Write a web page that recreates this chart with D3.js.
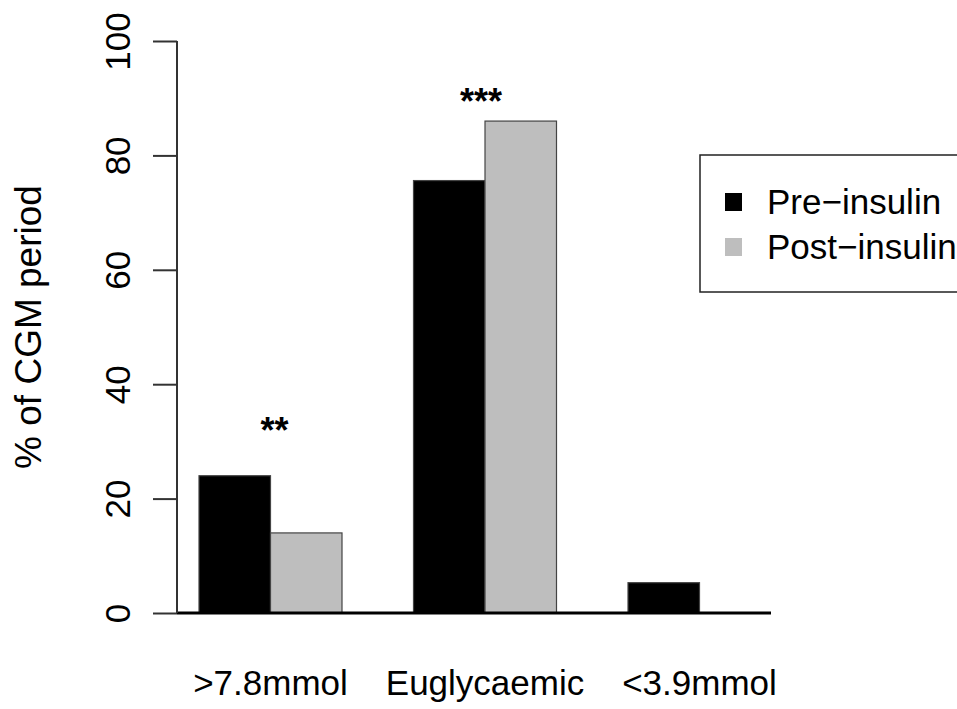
<!DOCTYPE html>
<html>
<head>
<meta charset="utf-8">
<script src="https://cdn.jsdelivr.net/npm/d3@7"></script>
<style>
  body { margin: 0; background: #fff; }
  text { font-family: "Liberation Sans", Arial, sans-serif; fill: #000; }
</style>
</head>
<body>
<div id="chart-area"></div>
<script>
// data
var categories = [">7.8mmol", "Euglycaemic", "<3.9mmol"];
var series = ["Pre-insulin", "Post-insulin"];
var seriesLabels = ["Pre\u2212insulin", "Post\u2212insulin"];
var preValues = [24, 75.6, 5.3];
var postValues = [14, 86, 0];
var stars = ["**", "***", ""];
var starLevels = [33, 90.5, 0];
var yTicks = [0, 20, 40, 60, 80, 100];
var colors = ["#000000", "#bebebe"];

var width = 957, height = 709;

var svg = d3.select("#chart-area")
    .append("svg")
        .attr("width", width)
        .attr("height", height);

var x0 = d3.scaleBand()
    .domain(categories)
    .range([199, 771])
    .paddingInner(1 / 3)
    .paddingOuter(0);

var x1 = d3.scaleBand()
    .domain(series)
    .range([0, x0.bandwidth()]);

var y = d3.scaleLinear()
    .domain([0, 100])
    .range([613, 41]);

var data = categories.map((c, i) => {
    return { cat: c, vals: [preValues[i], postValues[i]], star: stars[i], level: starLevels[i] };
});

// bars
var groups = svg.selectAll("g.group")
    .data(data)
    .enter()
    .append("g")
        .attr("class", "group")
        .attr("transform", (d) => "translate(" + x0(d.cat) + ",0)");

groups.selectAll("rect")
    .data((d) => d.vals.map((v, j) => ({ s: series[j], v: v, j: j })))
    .enter()
    .append("rect")
        .attr("x", (d) => x1(d.s))
        .attr("y", (d) => y(d.v))
        .attr("width", x1.bandwidth())
        .attr("height", (d) => y(0) - y(d.v))
        .attr("fill", (d) => colors[d.j])
        .attr("stroke", "#444")
        .attr("stroke-width", 1.2);

// baseline
svg.append("line")
    .attr("x1", 177)
    .attr("x2", x0(categories[2]) + x0.bandwidth())
    .attr("y1", y(0))
    .attr("y2", y(0))
    .attr("stroke", "#000")
    .attr("stroke-width", 3);

// significance stars
groups.append("text")
    .attr("x", (d, i) => x0.bandwidth() / 2 + (i === 0 ? 4 : -4))
    .attr("y", (d) => y(d.level) + 19)
    .attr("text-anchor", "middle")
    .attr("font-size", "36px")
    .attr("font-weight", "bold")
    .text((d) => d.star);

// y axis
var yAxisCall = d3.axisLeft(y)
    .tickValues(yTicks)
    .tickSize(24)
    .tickFormat((d) => d);

var yAxis = svg.append("g")
    .attr("class", "left axis")
    .attr("transform", "translate(177,0)")
    .call(yAxisCall);

yAxis.select(".domain")
    .attr("d", "M0," + y(100) + "V" + y(0))
    .attr("stroke", "#333")
    .attr("stroke-width", 2);
yAxis.selectAll(".tick line")
    .attr("stroke", "#333")
    .attr("stroke-width", 2);
yAxis.selectAll(".tick text")
    .attr("font-size", "35px")
    .attr("font-family", "Liberation Sans, Arial, sans-serif")
    .attr("fill", "#000")
    .attr("text-anchor", "middle")
    .attr("x", 0)
    .attr("y", 0)
    .attr("dy", "0")
    .attr("transform", "translate(-47,0) rotate(-90)");

// y axis label
svg.append("text")
    .attr("transform", "translate(41," + ((41 + 613) / 2 - 0) + ") rotate(-90)")
    .attr("text-anchor", "middle")
    .attr("font-size", "37px")
    .text("% of CGM period");

// category labels
svg.selectAll("text.cat")
    .data(categories)
    .enter()
    .append("text")
        .attr("class", "cat")
        .attr("x", (d) => x0(d) + x0.bandwidth() / 2)
        .attr("y", 695)
        .attr("text-anchor", "middle")
        .attr("font-size", "35px")
        .text((d) => d);

// legend
var legend = svg.append("g")
    .attr("transform", "translate(700,155)");

legend.append("rect")
    .attr("x", 0)
    .attr("y", 0)
    .attr("width", 300)
    .attr("height", 137)
    .attr("fill", "none")
    .attr("stroke", "#222")
    .attr("stroke-width", 1.5);

series.forEach((s, i) => {
    legend.append("rect")
        .attr("x", 25)
        .attr("y", 38 + i * 45)
        .attr("width", 17)
        .attr("height", 18)
        .attr("fill", colors[i]);
    legend.append("text")
        .attr("x", 67)
        .attr("y", 59 + i * 45)
        .attr("font-size", "35px")
        .text(seriesLabels[i]);
});
</script>
</body>
</html>
